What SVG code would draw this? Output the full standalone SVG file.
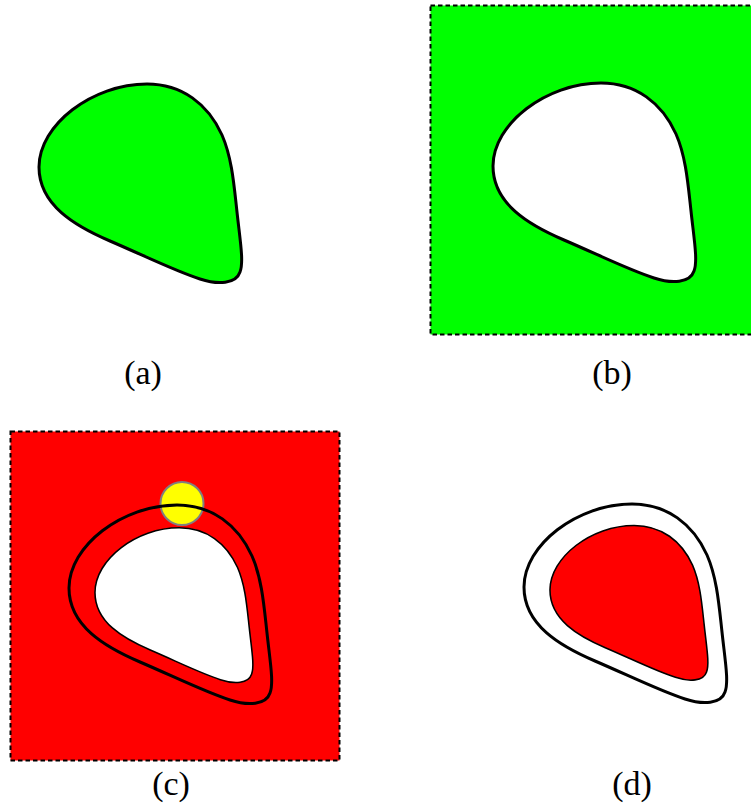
<svg xmlns="http://www.w3.org/2000/svg" xmlns:xlink="http://www.w3.org/1999/xlink" width="751" height="807" viewBox="0 0 751 807">
<style>
.lbl{font-family:"Liberation Serif","Times New Roman",serif;font-size:34px;fill:#000;text-anchor:middle}
.frame{stroke:#000;stroke-width:2;stroke-dasharray:4.5 3}
.thick{stroke:#000;stroke-width:3}
.thin{stroke:#000;stroke-width:2;vector-effect:non-scaling-stroke}
</style>
<defs>
<path id="blob" d="M147,84 C182,84 208,104 222,135 C232,158 234,185 237,212 C240,240 244,262 240,272 C236,284 218,285 200,279 C175,271 145,256 110,241 C75,226 39,205 39,167 C39,125 92,84 147,84 Z"/>
</defs>
<g id="panel-a">
<use xlink:href="#blob" href="#blob" fill="#00ff00" class="thick"/>
<text class="lbl" x="143" y="384">(a)</text>
</g>
<g id="panel-b">
<rect x="430.5" y="5.5" width="330" height="329" fill="#00ff00" class="frame"/>
<use xlink:href="#blob" href="#blob" transform="translate(454,-1)" fill="#ffffff" class="thick"/>
<text class="lbl" x="612" y="384">(b)</text>
</g>
<g id="panel-c">
<rect x="10.5" y="431.5" width="329" height="329" fill="#ff0000" class="frame"/>
<circle cx="182" cy="503.5" r="21.5" fill="#ffff00" stroke="#808080" stroke-width="2"/>
<use xlink:href="#blob" href="#blob" transform="translate(30,421)" fill="none" class="thick"/>
<use xlink:href="#blob" href="#blob" transform="translate(64.6,462.3) scale(0.779)" fill="#ffffff" class="thin"/>
<text class="lbl" x="171" y="795">(c)</text>
</g>
<g id="panel-d">
<use xlink:href="#blob" href="#blob" transform="translate(485,420)" fill="#ffffff" class="thick"/>
<use xlink:href="#blob" href="#blob" transform="translate(519.6,460) scale(0.779)" fill="#ff0000" class="thin"/>
<text class="lbl" x="632" y="795">(d)</text>
</g>
<g id="connectors"></g>
</svg>
